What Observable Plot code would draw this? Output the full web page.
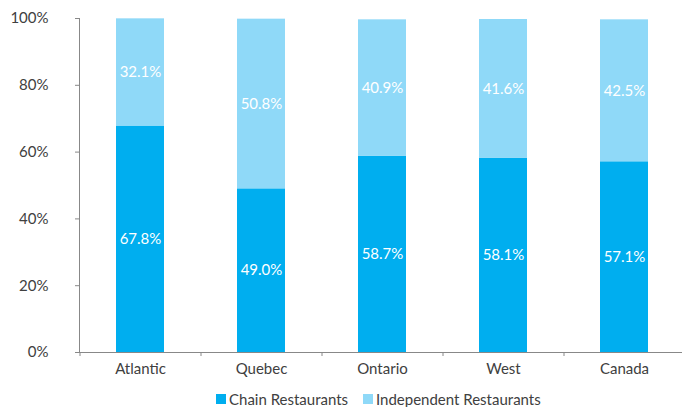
<!DOCTYPE html>
<html>
<head>
<meta charset="utf-8">
<script src="https://cdn.jsdelivr.net/npm/d3@7"></script>
<script src="https://cdn.jsdelivr.net/npm/@observablehq/plot@0.6"></script>
<style>
  html, body { margin: 0; padding: 0; background: #fff; }
  body { width: 682px; height: 407px; overflow: hidden; font-family: Lato, "Noto Sans", sans-serif; }
  #legend { position: absolute; left: 0; top: 389px; width: 682px; height: 19px; font-size: 15px; color: #404040; }
  .item { position: absolute; top: 0; display: flex; align-items: center; height: 19px; }
  .sw { width: 10px; height: 10px; margin-right: 3px; }
</style>
</head>
<body>
<div id="chart"></div>
<div id="legend"></div>
<script>
const regions = ["Atlantic", "Quebec", "Ontario", "West", "Canada"];
const chain = [67.8, 49.0, 58.7, 58.1, 57.1];
const independent = [32.1, 50.8, 40.9, 41.6, 42.5];
const seriesNames = ["Chain Restaurants", "Independent Restaurants"];
const seriesColors = ["#00AEEF", "#8FD9F8"];
const yTicks = [0, 20, 40, 60, 80, 100];

const data = [];
regions.forEach((r, i) => {
  data.push({region: r, type: seriesNames[0], value: chain[i]});
  data.push({region: r, type: seriesNames[1], value: independent[i]});
});

const W = 682, H = 388;
const ml = 79, mt = 18, mb = 36;
const xRange = [80, 685];
const step = (xRange[1] - xRange[0]) / regions.length;

const plot = Plot.plot({
  width: W,
  height: H,
  marginLeft: ml,
  marginRight: 0,
  marginTop: mt,
  marginBottom: mb,
  style: {fontFamily: 'Lato, "Noto Sans", sans-serif', fontSize: "15px", color: "#404040", background: "#fff"},
  x: {domain: regions, range: xRange, paddingInner: 0.6, paddingOuter: 0.3, label: null},
  y: {domain: [0, 100], label: null},
  color: {domain: seriesNames, range: seriesColors},
  marks: [
    Plot.barY(data, {x: "region", y: "value", fill: "type", order: seriesNames}),
    Plot.text(data, Plot.stackY({x: "region", y: "value", z: "type", order: seriesNames, text: d => d.value.toFixed(1) + "%", fill: "white", fontSize: 15})),
    Plot.axisY({ticks: yTicks, tickFormat: d => d + "%", tickSize: 4, tickPadding: 27, stroke: "#888", fill: "#404040"}),
    Plot.axisX({tickSize: 0, tickPadding: 11, fill: "#404040"}),
    Plot.ruleY([0], {stroke: "#888"}),
    Plot.ruleX(regions, {x: d => d, y1: 0, y2: 0, insetBottom: -4, dx: -step / 2, stroke: "#888"}),
    Plot.ruleX([regions[regions.length - 1]], {x: d => d, y1: 0, y2: 0, insetBottom: -4, dx: step / 2, stroke: "#888"})
  ]
});
document.getElementById("chart").appendChild(plot);

// y-axis vertical line
const svg = d3.select(plot);
svg.append("line").attr("x1", ml + 0.5).attr("x2", ml + 0.5).attr("y1", mt).attr("y2", H - mb).attr("stroke", "#888");

const legend = document.getElementById("legend");
const lx = [216, 363];
seriesNames.forEach((n, i) => {
  const it = document.createElement("div");
  it.className = "item";
  it.style.left = lx[i] + "px";
  it.innerHTML = `<span class="sw" style="background:${seriesColors[i]}"></span><span>${n}</span>`;
  legend.appendChild(it);
});
</script>
</body>
</html>
